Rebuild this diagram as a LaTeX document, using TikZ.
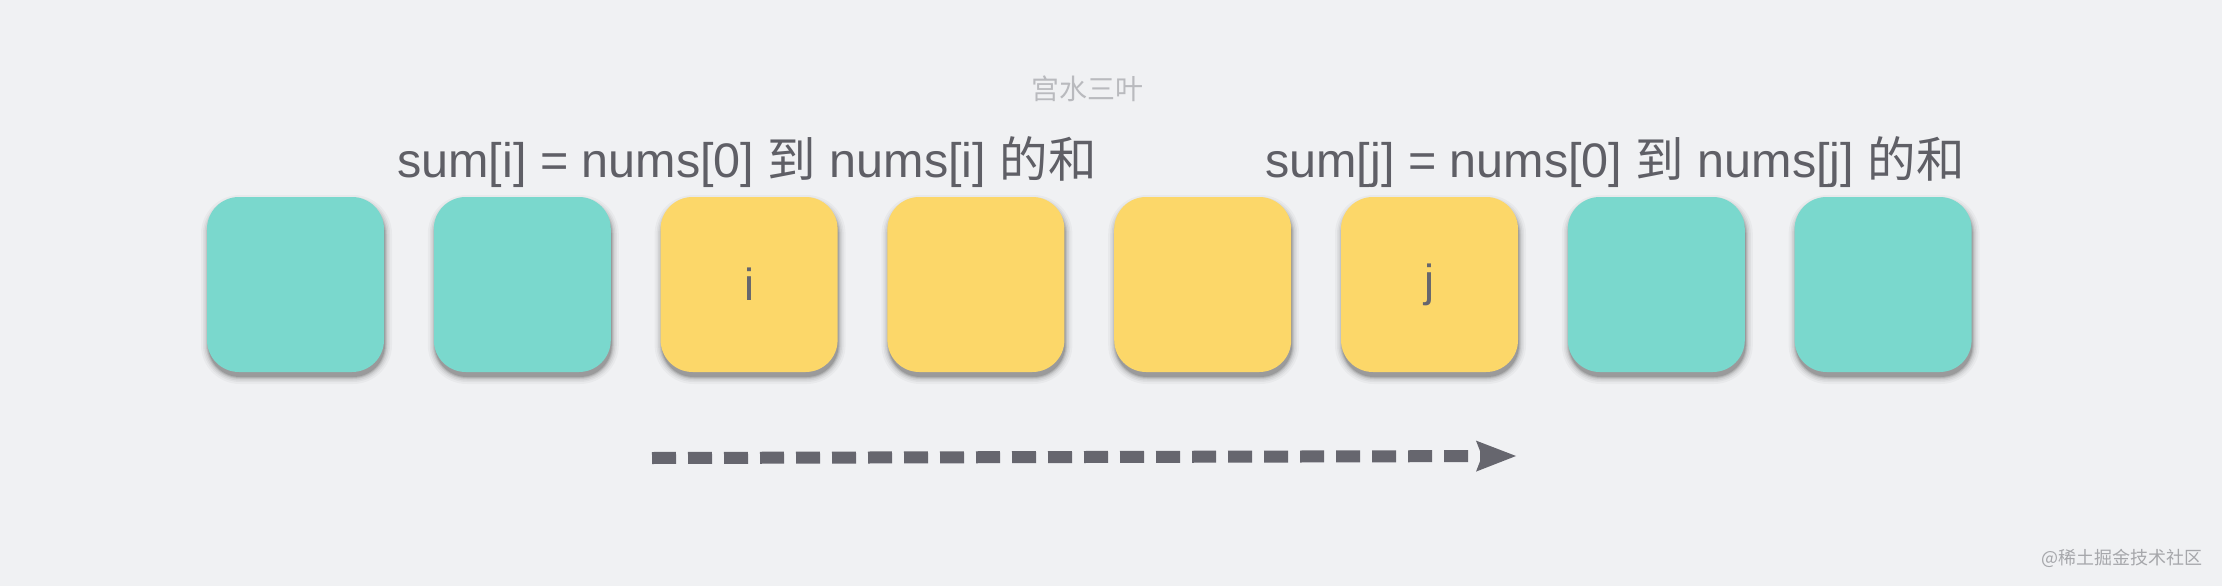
\documentclass[tikz,border=0pt]{standalone}
\usepackage{fontspec}
\setmainfont{Liberation Sans}
\newfontfamily\cjk{Noto Sans CJK SC}
\usetikzlibrary{arrows.meta}
\definecolor{bgc}{HTML}{F0F1F3}
\definecolor{teal}{HTML}{7AD8CD}
\definecolor{yel}{HTML}{FCD769}
\definecolor{txtc}{HTML}{5F5F66}
\definecolor{arrc}{HTML}{66666E}
\definecolor{wm}{HTML}{B9BABE}
\definecolor{wm2}{HTML}{A6A7AB}
\tikzset{
  cell/.style={minimum width=177pt, minimum height=175pt, rounded corners=32pt,
    inner sep=0pt, font=\fontsize{45}{54}\selectfont, text=arrc},
  titletext/.style={inner sep=0pt, font=\fontsize{48.5}{56}\selectfont, text=txtc},
}
\begin{document}
\begin{tikzpicture}[x=1pt,y=-1pt]
\fill[bgc] (0,0) rectangle (2222,586);
\useasboundingbox (0,0) rectangle (2222,586);
% shadows
\foreach \k in {0,...,7}{
  \pgfmathsetmacro\cx{295.5+226.8*\k}
  \foreach \g/\o in {7/0.03,5/0.04,3.5/0.05,2/0.07,1/0.09,0/0.13}{
    \fill[black, opacity=\o, rounded corners=32pt+\g pt]
      (\cx-88.5-\g+1, 197-\g+5) rectangle (\cx+88.5+\g+1, 372+\g+5);
  }
}
% boxes
\foreach \k/\c/\t in {0/teal/, 1/teal/, 2/yel/i, 3/yel/, 4/yel/, 5/yel/j, 6/teal/, 7/teal/}{
  \pgfmathsetmacro\cx{295.5+226.8*\k}
  \node[cell, fill=\c] (b\k) at (\cx,284.5) {\t};
}
% titles
\node[titletext, anchor=base] (t1) at (747,177) {sum[i] = nums[0] {\cjk 到} nums[i] {\cjk 的和}};
\node[titletext, anchor=base] (t2) at (1615,177) {sum[j] = nums[0] {\cjk 到} nums[j] {\cjk 的和}};
% watermark
\node[inner sep=0pt, font=\cjk\fontsize{28}{32}\selectfont, text=wm] (wmk) at (1087.5,89) {宫水三叶};
\node[inner sep=0pt, font=\cjk\fontsize{18}{22}\selectfont, text=wm2, anchor=east] (site) at (2203,558.5) {@稀土掘金技术社区};
% arrow
\coordinate (as) at (652,458);
\coordinate (ae) at (1516,456);
\draw[arrc, line width=12pt, dash pattern=on 24pt off 12pt,
  -{Stealth[length=40pt, width=31pt, inset=6pt, line width=0pt]}] (as) -- (ae);
\end{tikzpicture}
\end{document}
